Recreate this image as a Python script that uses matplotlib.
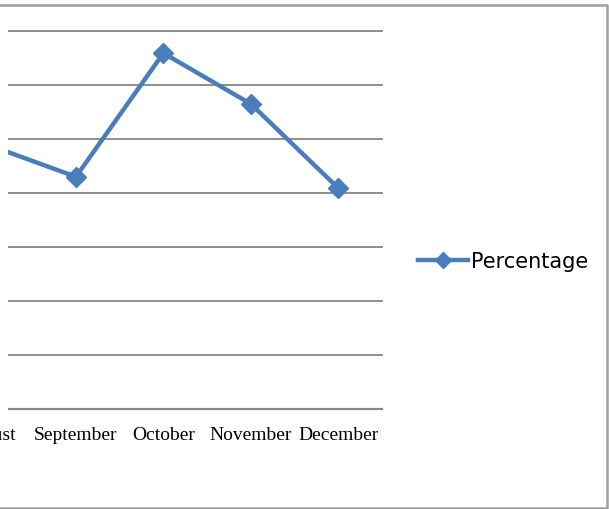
import matplotlib
matplotlib.use('Agg')
import matplotlib.pyplot as plt
from matplotlib.lines import Line2D
from matplotlib.patches import Rectangle

# data (in gridline units)
months = ['August', 'September', 'October', 'November', 'December']
percentage = [4.89, 4.30, 6.59, 5.65, 4.09]
y_ticks = [0, 1, 2, 3, 4, 5, 6, 7]

W, H = 609, 510
BLUE = '#4a7ebb'; GRID = '#868686'; FRAME = '#a0a0a0'

fig = plt.figure(figsize=(W/100, H/100), dpi=100)
fig.patch.set_facecolor('white')

# plot area: band = 87.5px per category, left part cropped off the picture
band = 87.5
left_px = 76 - 1.5*band
right_px = 382
ax = fig.add_axes([left_px/W, (H-410)/H, (right_px-left_px)/W, (410-32)/H])
x = list(range(len(months)))
ax.plot(x, percentage, color=BLUE, lw=3.2, marker='D', ms=10.5,
        mfc=BLUE, mec=BLUE, label='Percentage', zorder=5)
ax.set_xlim(-0.5, len(months)-0.5)
ax.set_ylim(y_ticks[0], y_ticks[-1])
ax.set_yticks(y_ticks)
ax.set_yticklabels([])
ax.set_xticks(x)
ax.set_xticklabels(months, family='Liberation Serif', fontsize=14)
ax.tick_params(length=0, pad=12)
ax.yaxis.grid(True, color=GRID, lw=1.3)
for gl in ax.get_ygridlines():
    gl.set_clip_on(False)
ax.set_axisbelow(True)
for s in ['top', 'right', 'left']:
    ax.spines[s].set_visible(False)
ax.spines['bottom'].set_color(GRID); ax.spines['bottom'].set_linewidth(1.6)

# white strip at the cropped left edge
fig.patches.append(Rectangle((0, (H-415)/H), 8/W, 400/H, transform=fig.transFigure,
                             facecolor='white', edgecolor='none', zorder=10))

# outer chart border (left edge is cropped)
fig.lines.append(Line2D([0, 607/W, 607/W, 0], [1-5.5/H, 1-5.5/H, 1-509/H, 1-509/H],
                        transform=fig.transFigure, color=FRAME, lw=1.8))

leg = fig.legend(handles=ax.get_lines(), loc='center left',
                 bbox_to_anchor=(408/W, 1-262/H), frameon=False,
                 prop={'family': 'DejaVu Sans', 'size': 15},
                 handlelength=2.4, handletextpad=0.12, borderpad=0,
                 markerscale=0.75)

fig.savefig('out.png', dpi=100)
